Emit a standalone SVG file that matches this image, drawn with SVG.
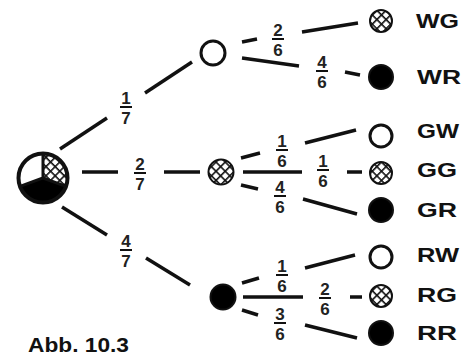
<svg xmlns="http://www.w3.org/2000/svg" width="475" height="358" viewBox="0 0 475 358">
<style>
.ln{stroke:#111;stroke-width:3.5;fill:none}
.bar{stroke:#111;stroke-width:2}
.fr{font-family:"Liberation Sans",Arial,sans-serif;font-weight:bold;font-size:17px;fill:#222;text-anchor:middle}
.lb{font-family:"Liberation Sans",Arial,sans-serif;font-weight:bold;font-size:21px;fill:#111}
.w{fill:#fff;stroke:#111;stroke-width:3}
.h{fill:url(#hatch);stroke:#111;stroke-width:2}
.b{fill:#000;stroke:#111;stroke-width:2}
</style>
<defs>
<pattern id="hatch" patternUnits="userSpaceOnUse" width="6.5" height="6.5" patternTransform="rotate(45)">
<rect width="6.5" height="6.5" fill="#fff"/>
<line x1="0" y1="0.8" x2="6.5" y2="0.8" stroke="#111" stroke-width="1.6"/>
<line x1="0.8" y1="0" x2="0.8" y2="6.5" stroke="#111" stroke-width="1.6"/>
</pattern>
</defs>
<rect width="475" height="358" fill="#fff"/>
<g id="connectors">
<line class="ln" x1="60" y1="149" x2="107" y2="118"/>
<line class="ln" x1="145" y1="93" x2="192" y2="62"/>
<line class="ln" x1="82" y1="172" x2="118" y2="172"/>
<line class="ln" x1="164" y1="172" x2="200" y2="172"/>
<line class="ln" x1="62" y1="207" x2="107" y2="235"/>
<line class="ln" x1="146" y1="258" x2="190" y2="285"/>
<line class="ln" x1="242" y1="42" x2="257" y2="39"/>
<line class="ln" x1="302" y1="32" x2="358" y2="23"/>
<line class="ln" x1="242" y1="58" x2="299" y2="66"/>
<line class="ln" x1="345" y1="72" x2="360" y2="75"/>
<line class="ln" x1="241" y1="158" x2="260" y2="153"/>
<line class="ln" x1="305" y1="143" x2="356" y2="130"/>
<line class="ln" x1="243" y1="172" x2="302" y2="172"/>
<line class="ln" x1="347" y1="172" x2="362" y2="172"/>
<line class="ln" x1="241" y1="185" x2="258" y2="189"/>
<line class="ln" x1="303" y1="199" x2="357" y2="214"/>
<line class="ln" x1="242" y1="283" x2="259" y2="278"/>
<line class="ln" x1="305" y1="268" x2="355" y2="255"/>
<line class="ln" x1="243" y1="297" x2="303" y2="297"/>
<line class="ln" x1="350" y1="297" x2="362" y2="297"/>
<line class="ln" x1="242" y1="310" x2="258" y2="315"/>
<line class="ln" x1="305" y1="325" x2="357" y2="338"/>
</g>
<g id="fractions">
<g id="f17"><text class="fr" x="126" y="104">1</text><line class="bar" x1="120" y1="107" x2="132" y2="107"/><text class="fr" x="126" y="124">7</text></g>
<g id="f27"><text class="fr" x="140" y="170">2</text><line class="bar" x1="134" y1="173" x2="146" y2="173"/><text class="fr" x="140" y="190">7</text></g>
<g id="f47"><text class="fr" x="126" y="247">4</text><line class="bar" x1="120" y1="250" x2="132" y2="250"/><text class="fr" x="126" y="267">7</text></g>
<g id="fWG"><text class="fr" x="278" y="36">2</text><line class="bar" x1="272" y1="39" x2="284" y2="39"/><text class="fr" x="278" y="56">6</text></g>
<g id="fWR"><text class="fr" x="322" y="68">4</text><line class="bar" x1="316" y1="71" x2="328" y2="71"/><text class="fr" x="322" y="88">6</text></g>
<g id="fGW"><text class="fr" x="282" y="147">1</text><line class="bar" x1="276" y1="150" x2="288" y2="150"/><text class="fr" x="282" y="167">6</text></g>
<g id="fGG"><text class="fr" x="323" y="167">1</text><line class="bar" x1="317" y1="170" x2="329" y2="170"/><text class="fr" x="323" y="187">6</text></g>
<g id="fGR"><text class="fr" x="280" y="193">4</text><line class="bar" x1="274" y1="196" x2="286" y2="196"/><text class="fr" x="280" y="213">6</text></g>
<g id="fRW"><text class="fr" x="282" y="272">1</text><line class="bar" x1="276" y1="275" x2="288" y2="275"/><text class="fr" x="282" y="292">6</text></g>
<g id="fRG"><text class="fr" x="325" y="295">2</text><line class="bar" x1="319" y1="298" x2="331" y2="298"/><text class="fr" x="325" y="315">6</text></g>
<g id="fRR"><text class="fr" x="280" y="320">3</text><line class="bar" x1="274" y1="323" x2="286" y2="323"/><text class="fr" x="280" y="340">6</text></g>
</g>
<g id="root">
<circle cx="43" cy="178" r="24.5" fill="#fff"/>
<path d="M43,178 L43,153.5 A24.5,24.5 0 0 1 66,186.4 Z" fill="url(#hatch)"/>
<path d="M43,178 L20,186.4 A24.5,24.5 0 0 0 66,186.4 Z" fill="#000"/>
<path d="M43,153.5 L43,178 L20,186.4 M43,178 L66,186.4" stroke="#111" stroke-width="3" fill="none"/>
<circle cx="43" cy="178" r="24.5" fill="none" stroke="#111" stroke-width="4"/>
</g>
<g id="nW"><circle class="w" cx="213" cy="53" r="12"/></g>
<g id="nG"><circle class="h" cx="221" cy="172" r="12.5"/></g>
<g id="nR"><circle class="b" cx="223" cy="297" r="12.5"/></g>
<g id="WG"><circle class="h" cx="381" cy="21" r="11"/><text class="lb" x="416" y="28" textLength="43" lengthAdjust="spacingAndGlyphs">WG</text></g>
<g id="WR"><circle class="b" cx="381" cy="77" r="12"/><text class="lb" x="417" y="84" textLength="44" lengthAdjust="spacingAndGlyphs">WR</text></g>
<g id="GW"><circle class="w" cx="381" cy="136" r="11"/><text class="lb" x="417" y="138" textLength="42" lengthAdjust="spacingAndGlyphs">GW</text></g>
<g id="GG"><circle class="h" cx="381" cy="173" r="11"/><text class="lb" x="417" y="177" textLength="40" lengthAdjust="spacingAndGlyphs">GG</text></g>
<g id="GR"><circle class="b" cx="381" cy="210" r="12"/><text class="lb" x="417" y="217" textLength="40" lengthAdjust="spacingAndGlyphs">GR</text></g>
<g id="RW"><circle class="w" cx="381" cy="257" r="11"/><text class="lb" x="417" y="262" textLength="42" lengthAdjust="spacingAndGlyphs">RW</text></g>
<g id="RG"><circle class="h" cx="381" cy="296" r="11"/><text class="lb" x="417" y="302" textLength="40" lengthAdjust="spacingAndGlyphs">RG</text></g>
<g id="RR"><circle class="b" cx="381" cy="333" r="12"/><text class="lb" x="417" y="340" textLength="40" lengthAdjust="spacingAndGlyphs">RR</text></g>
<text class="lb" x="28" y="352" font-size="20" textLength="101" lengthAdjust="spacingAndGlyphs">Abb. 10.3</text>
</svg>
